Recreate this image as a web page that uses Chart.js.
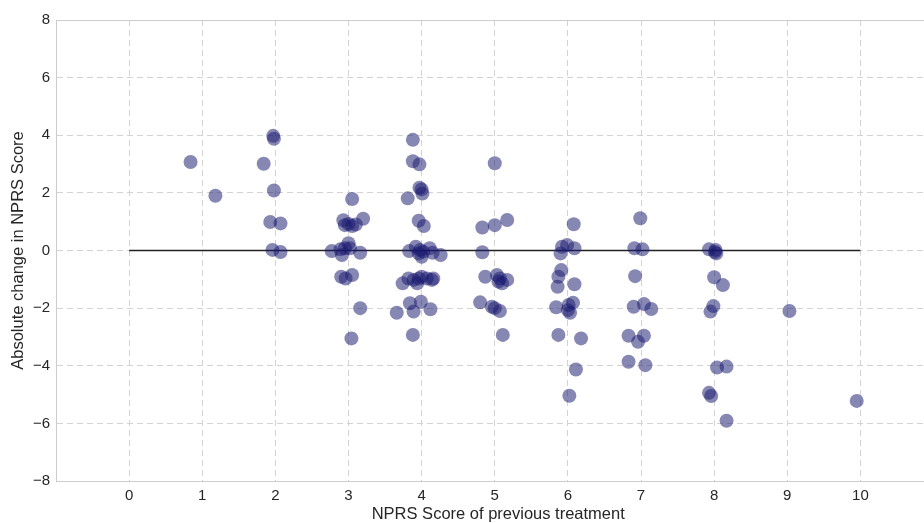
<!DOCTYPE html>
<html>
<head>
<meta charset="utf-8">
<script src="https://cdn.jsdelivr.net/npm/chart.js@4"></script>
<style>
  html, body { margin: 0; padding: 0; background: #fff; }
  #wrap { width: 924px; height: 523px; }
</style>
</head>
<body>
<div id="wrap"><canvas id="chart" width="924" height="523"></canvas></div>
<script>
// NPRS score of previous treatment (x) and absolute change (y)
const prevScore = [
  0.84, 1.18, 1.84, 1.97, 1.98, 1.98, 1.93, 2.07, 1.96, 2.07,
  3.05, 2.93, 3.00, 3.05, 3.10, 3.20, 2.95,
  2.77, 2.89, 2.95, 3.00, 3.02, 3.16, 2.91,
  2.90, 2.96, 3.05, 3.16, 3.04,
  3.88, 3.88, 3.97, 3.97, 4.00, 4.01, 3.81, 3.96, 4.03,
  3.83, 3.92, 3.98, 4.02, 4.11, 4.15, 4.26, 3.96, 4.00,
  3.74, 3.82, 3.89, 3.96, 4.00, 4.07, 4.16, 3.94, 4.14,
  3.84, 3.99, 4.12, 3.66, 3.89, 3.88,
  5.00, 4.83, 5.00, 5.17, 4.83,
  4.87, 5.03, 5.07, 5.17, 5.10, 5.05,
  4.80, 4.96, 5.07, 5.00, 5.11,
  6.08, 5.92, 5.99, 6.09, 5.90,
  5.91, 5.87, 5.86, 6.09,
  5.84, 6.01, 6.07, 6.03, 6.00,
  5.87, 6.18, 6.11, 6.02,
  6.99, 6.91, 7.02, 6.92, 6.90, 7.04, 7.14, 6.83, 7.04, 6.96, 6.83, 7.06,
  7.93, 8.02, 8.03, 8.01, 8.00, 8.12, 7.99, 7.95, 9.03, 8.04, 8.17, 7.93, 7.96, 8.17, 9.95
];
const changeScore = [
  3.07, 1.90, 3.01, 3.98, 3.88, 2.08, 0.99, 0.94, 0.02, -0.05,
  1.79, 1.05, 0.92, 0.85, 0.90, 1.10, 0.88,
  -0.02, 0.04, 0.08, 0.25, 0.08, -0.08, -0.16,
  -0.91, -0.97, -0.85, -2.00, -3.05,
  3.84, 3.10, 2.99, 2.18, 2.12, 1.98, 1.81, 1.03, 0.85,
  -0.02, 0.13, 0.02, -0.04, 0.08, -0.08, -0.16, -0.10, -0.22,
  -1.14, -0.97, -1.02, -0.97, -0.91, -0.97, -0.97, -1.14, -1.02,
  -1.83, -1.78, -2.04, -2.16, -2.12, -2.93,
  3.03, 0.80, 0.88, 1.06, -0.06,
  -0.91, -0.85, -0.97, -1.02, -1.14, -1.08,
  -1.80, -1.95, -2.10, -2.00, -2.93,
  0.91, 0.13, 0.19, 0.08, -0.10,
  -0.68, -0.91, -1.26, -1.17,
  -1.97, -1.89, -1.81, -2.16, -2.07,
  -2.93, -3.05, -4.13, -5.04,
  1.12, 0.08, 0.04, -0.89, -1.95, -1.86, -2.03, -2.96, -2.96, -3.17, -3.86, -3.98,
  0.04, 0.02, -0.10, -0.05, -0.93, -1.20, -1.93, -2.12, -2.10, -4.06, -4.03, -4.94, -5.05, -5.91, -5.22
];
// zero reference line
const zeroLineX = [0, 10];
const zeroLineY = [0, 0];
const xTicks = [0, 1, 2, 3, 4, 5, 6, 7, 8, 9, 10];

const points = prevScore.map((x, i) => ({ x: x, y: changeScore[i] }));
const zeroLine = zeroLineX.map((x, i) => ({ x: x, y: zeroLineY[i] }));

const tickFont = { family: "'Liberation Sans', Arial, sans-serif", size: 15 };
const titleFont = { family: "'Liberation Sans', Arial, sans-serif", size: 16.5 };
const gridGray = "#d3d3d3";

new Chart(document.getElementById("chart"), {
  type: "scatter",
  data: {
    datasets: [
      {
        type: "line",
        data: zeroLine,
        borderColor: "#222",
        borderWidth: 1.3,
        pointRadius: 0,
        fill: false,
        order: 1
      },
      {
        data: points,
        backgroundColor: "rgba(25,25,112,0.52)",
        borderWidth: 0,
        pointRadius: 7,
        pointHoverRadius: 7,
        order: 0
      }
    ]
  },
  options: {
    responsive: false,
    animation: false,
    layout: { autoPadding: false, padding: { top: 20, right: 0, left: 0, bottom: 0 } },
    plugins: { legend: { display: false }, tooltip: { enabled: false } },
    scales: {
      x: {
        type: "linear",
        min: -1,
        max: 10.87,
        afterBuildTicks: scale => { scale.ticks = xTicks.map(v => ({ value: v })); },
        afterFit: scale => { scale.height = 42; },
        ticks: { font: tickFont, color: "#262626", padding: 6, autoSkip: false },
        grid: { color: gridGray, lineWidth: 1, drawTicks: false },
        border: { color: "#cccccc", width: 1, dash: [6, 4] },
        title: {
          display: true,
          // the original axis runs a little past the cropped right edge, so its title sits slightly right of centre
          text: "\u2003NPRS Score of previous treatment",
          font: titleFont,
          color: "#262626",
          padding: { top: 0, bottom: -1 }
        }
      },
      y: {
        min: -8,
        max: 8,
        afterFit: scale => { scale.width = 56; },
        ticks: {
          stepSize: 2,
          font: tickFont,
          color: "#262626",
          padding: 6,
          callback: v => String(v).replace("-", "\u2212")
        },
        grid: {
          color: ctx => (ctx.tick && ctx.tick.value === 8) ? "#cccccc" : gridGray,
          lineWidth: 1,
          drawTicks: false
        },
        border: {
          color: "#cccccc",
          width: 1,
          dash: ctx => (ctx.tick && ctx.tick.value === 8) ? [] : [6, 4]
        },
        title: {
          display: true,
          text: "Absolute change in NPRS Score",
          font: titleFont,
          color: "#262626",
          padding: { top: 9, bottom: 0 }
        }
      }
    }
  }
});
</script>
</body>
</html>
